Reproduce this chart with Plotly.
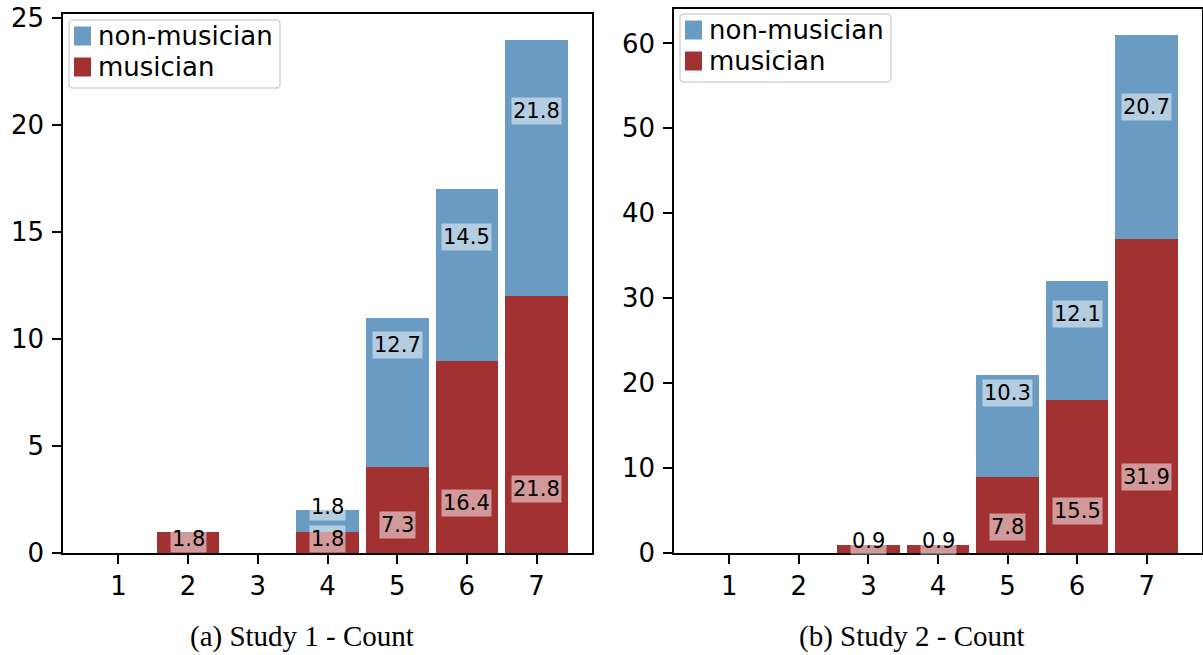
import plotly.graph_objects as go

# ---------------- data ----------------
ratings = [1, 2, 3, 4, 5, 6, 7]

s1_musician = [0, 1, 0, 1, 4, 9, 12]
s1_non_musician = [0, 0, 0, 1, 7, 8, 12]

s2_musician = [0, 0, 1, 1, 9, 18, 37]
s2_non_musician = [0, 0, 0, 0, 12, 14, 24]

series_names = ["musician", "non-musician"]
captions = ["(a) Study 1 - Count", "(b) Study 2 - Count"]
s1_yticks = [0, 5, 10, 15, 20, 25]
s2_yticks = [0, 10, 20, 30, 40, 50, 60]

# ---------------- style ----------------
RED = "#A23232"
BLUE = "#6A9BC3"
W, H = 1203, 655
FONT = "DejaVu Sans"


def px(x):
    return x / W


def py(y):
    return (H - y) / H


fig = go.Figure()

studies = [
    dict(mus=s1_musician, non=s1_non_musician, xa="x", ya="y",
         legbox=(69, 20, 280, 88), sw_x=(74, 91), rows=(36, 67), text_x=96),
    dict(mus=s2_musician, non=s2_non_musician, xa="x2", ya="y2",
         legbox=(680, 14, 891, 82), sw_x=(685, 702), rows=(30, 61), text_x=707),
]

annotations = []
shapes = []
for st in studies:
    fig.add_trace(go.Bar(x=ratings, y=st["mus"], name=series_names[0], width=0.9,
                         marker=dict(color=RED, line=dict(width=0)), showlegend=False,
                         xaxis=st["xa"], yaxis=st["ya"]))
    fig.add_trace(go.Bar(x=ratings, y=st["non"], name=series_names[1], width=0.9,
                         marker=dict(color=BLUE, line=dict(width=0)), showlegend=False,
                         xaxis=st["xa"], yaxis=st["ya"]))
    n_total = sum(st["mus"]) + sum(st["non"])
    for r, m, nm in zip(ratings, st["mus"], st["non"]):
        if m > 0:
            annotations.append(dict(
                x=r, y=0.21 * m, xref=st["xa"], yref=st["ya"],
                text=f"{m / n_total * 100:.1f}", showarrow=False, yshift=10,
                font=dict(family=FONT, size=21, color="black"),
                bgcolor="rgba(255,255,255,0.5)", borderpad=1))
        if nm > 0:
            annotations.append(dict(
                x=r, y=0.8415 * (m + nm), xref=st["xa"], yref=st["ya"],
                text=f"{nm / n_total * 100:.1f}", showarrow=False, yshift=10,
                font=dict(family=FONT, size=21, color="black"),
                bgcolor="rgba(255,255,255,0.5)", borderpad=1))

    # legend (matplotlib-style, drawn with shapes + text)
    x0, y0, x1, y1 = st["legbox"]
    rr = 4
    path = (f"M {px(x0 + rr)},{py(y0)} L {px(x1 - rr)},{py(y0)} Q {px(x1)},{py(y0)} {px(x1)},{py(y0 + rr)} "
            f"L {px(x1)},{py(y1 - rr)} Q {px(x1)},{py(y1)} {px(x1 - rr)},{py(y1)} "
            f"L {px(x0 + rr)},{py(y1)} Q {px(x0)},{py(y1)} {px(x0)},{py(y1 - rr)} "
            f"L {px(x0)},{py(y0 + rr)} Q {px(x0)},{py(y0)} {px(x0 + rr)},{py(y0)} Z")
    shapes.append(dict(type="path", path=path, xref="paper", yref="paper",
                       fillcolor="rgba(255,255,255,0.8)",
                       line=dict(color="#D5D5D5", width=1.5), layer="above"))
    for name, color, yc in [(series_names[1], BLUE, st["rows"][0]),
                            (series_names[0], RED, st["rows"][1])]:
        shapes.append(dict(type="rect", xref="paper", yref="paper",
                           x0=px(st["sw_x"][0]), x1=px(st["sw_x"][1]),
                           y0=py(yc + 9.5), y1=py(yc - 9.5),
                           fillcolor=color, line=dict(width=0), layer="above"))
        annotations.append(dict(x=px(st["text_x"]), y=py(yc), xref="paper", yref="paper",
                                xanchor="left", yanchor="middle", text=name, showarrow=False,
                                font=dict(family=FONT, size=26, color="black")))

for cx, cap in zip([302, 912], captions):
    annotations.append(dict(x=px(cx), y=py(636), xref="paper", yref="paper",
                            xanchor="center", yanchor="middle",
                            text=cap, showarrow=False,
                            font=dict(family="Liberation Serif", size=29, color="black")))

axis_common = dict(showline=True, linecolor="black", linewidth=1.5, mirror=True,
                   ticks="outside", ticklen=9, tickwidth=1.5, tickcolor="black",
                   showgrid=False, zeroline=False, automargin=False,
                   tickfont=dict(family=FONT, size=26, color="black"))

fig.update_layout(
    width=W, height=H, autosize=False,
    margin=dict(l=0, r=0, t=0, b=0, pad=0),
    paper_bgcolor="white", plot_bgcolor="white",
    barmode="stack", bargap=0, showlegend=False,
    font=dict(family=FONT, color="black"),
    xaxis=dict(domain=[px(63), px(592)], range=[0.205, 7.795], tickvals=ratings,
               anchor="y", **axis_common),
    yaxis=dict(domain=[py(553), py(14)],
               range=[0, max(a + b for a, b in zip(s1_musician, s1_non_musician)) * 1.05],
               tickvals=s1_yticks, anchor="x", ticklabelstandoff=3, **axis_common),
    xaxis2=dict(domain=[px(674), px(1202)], range=[0.205, 7.795], tickvals=ratings,
                anchor="y2", **axis_common),
    yaxis2=dict(domain=[py(553), py(9)],
                range=[0, max(a + b for a, b in zip(s2_musician, s2_non_musician)) * 1.05],
                tickvals=s2_yticks, anchor="x2", ticklabelstandoff=3, **axis_common),
    annotations=annotations,
    shapes=shapes,
)

fig.write_html(
    "out.html",
    config={"displayModeBar": False},
    post_script="document.body.style.margin='0';document.body.style.padding='0';"
                "document.body.style.overflow='hidden';",
)
